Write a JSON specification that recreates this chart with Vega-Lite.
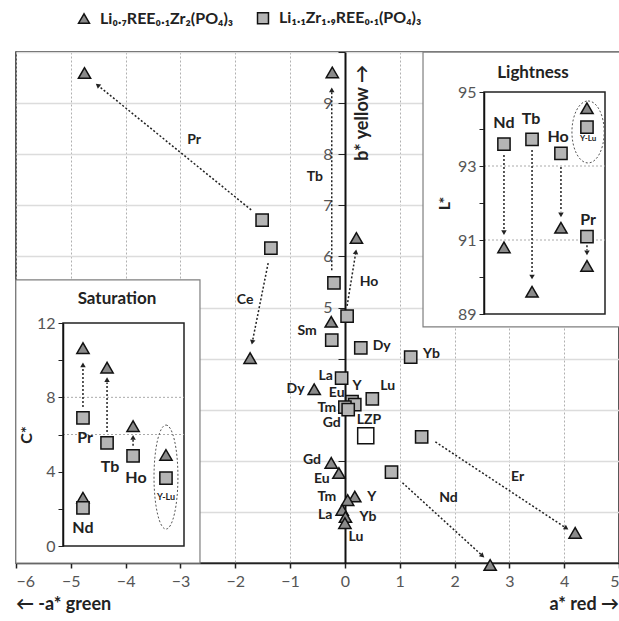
{
  "$schema": "https://vega.github.io/schema/vega-lite/v6.json",
  "width": 603,
  "height": 511,
  "autosize": {"type": "none"},
  "padding": {"left": 16, "top": 52, "right": 0, "bottom": 58},
  "background": "white",
  "config": {
    "view": {"stroke": "#222", "strokeWidth": 1.5},
    "font": "Lato",
    "text": {"font": "Lato"}
  },
  "resolve": {"scale": {"x": "independent", "y": "independent"}},
  "layer": [
    {
      "encoding": {
        "x": {"field": "x", "type": "quantitative", "scale": {"domain": [-6, 5], "nice": false, "zero": false},
          "axis": {"values": [-6,-5,-4,-3,-2,-1,0,1,2,3,4,5], "title": null, "grid": true, "gridColor": "#b0b0b0", "gridDash": [2,2], "gridWidth": 1, "domainColor": "#222", "domainWidth": 1.5, "tickColor": "#222", "tickSize": 5, "tickWidth": 1.5, "labelFontSize": 16, "labelColor": "#555", "labelPadding": 5, "labelFont": "Lato"}},
        "y": {"field": "y", "type": "quantitative", "scale": {"domain": [0, 10], "nice": false, "zero": false},
          "axis": {"orient": "left", "offset": -329, "values": [0,1,2,3,4,5,6,7,8,9,10], "labelExpr": "datum.value >= 5 && datum.value <= 9 ? datum.label : ''", "title": null, "grid": true, "gridColor": "#dcdcdc", "gridWidth": 1.5, "domainColor": "#111", "domainWidth": 2, "tickColor": "#222", "tickSize": 7, "labelPadding": 6, "labelFontSize": 16, "labelColor": "#555", "labelFont": "Lato"}}
      },
      "layer": [
        {
          "data": {"name": "arrowsMain", "values": [
            {"x": -1.71, "y": 6.91, "x2": -4.51, "y2": 9.35},
            {"x": -1.4, "y": 5.87, "x2": -1.69, "y2": 4.32},
            {"x": -0.24, "y": 5.73, "x2": -0.24, "y2": 9.26},
            {"x": 0.04, "y": 5.03, "x2": 0.2, "y2": 6.09},
            {"x": 1.65, "y": 2.37, "x2": 4.04, "y2": 0.68},
            {"x": 1.05, "y": 1.57, "x2": 2.51, "y2": 0.14}
          ]},
          "mark": {"type": "rule", "strokeDash": [2, 2], "strokeWidth": 1.5, "color": "#222"},
          "encoding": {"x2": {"field": "x2"}, "y2": {"field": "y2"}}
        },
        {
          "data": {"name": "arrowsMain"},
          "transform": [{"calculate": "atan2((datum.x2 - datum.x) * 54.82, (datum.y2 - datum.y) * 51.1) * 180 / PI", "as": "ang"}],
          "mark": {"type": "point", "shape": "triangle-up", "filled": true, "color": "#222", "size": 30, "opacity": 1},
          "encoding": {
            "x": {"field": "x2", "type": "quantitative", "scale": {"domain": [-6, 5], "nice": false, "zero": false},
              "axis": {"values": [-6,-5,-4,-3,-2,-1,0,1,2,3,4,5], "title": null, "grid": true, "gridColor": "#b0b0b0", "gridDash": [2,2], "gridWidth": 1, "domainColor": "#222", "domainWidth": 1.5, "tickColor": "#222", "tickSize": 5, "tickWidth": 1.5, "labelFontSize": 16, "labelColor": "#555", "labelPadding": 5, "labelFont": "Lato"}},
            "y": {"field": "y2", "type": "quantitative", "scale": {"domain": [0, 10], "nice": false, "zero": false},
              "axis": {"orient": "left", "offset": -329, "values": [0,1,2,3,4,5,6,7,8,9,10], "labelExpr": "datum.value >= 5 && datum.value <= 9 ? datum.label : ''", "title": null, "grid": true, "gridColor": "#dcdcdc", "gridWidth": 1.5, "domainColor": "#111", "domainWidth": 2, "tickColor": "#222", "tickSize": 7, "labelPadding": 6, "labelFontSize": 16, "labelColor": "#555", "labelFont": "Lato"}},
            "angle": {"field": "ang", "type": "quantitative", "scale": null}
          }
        },
        {
          "data": {"values": [
            {"ree": "Pr", "s": "tri", "x": -4.75, "y": 9.59},
            {"ree": "Tb", "s": "tri", "x": -0.23, "y": 9.6},
            {"ree": "Ho", "s": "tri", "x": 0.21, "y": 6.36},
            {"ree": "Ce", "s": "tri", "x": -1.73, "y": 4.01},
            {"ree": "Sm", "s": "tri", "x": -0.25, "y": 4.72},
            {"ree": "Dy", "s": "tri", "x": -0.56, "y": 3.4},
            {"ree": "Gd", "s": "tri", "x": -0.25, "y": 1.96},
            {"ree": "Eu", "s": "tri", "x": -0.11, "y": 1.76},
            {"ree": "Y", "s": "tri", "x": 0.18, "y": 1.3},
            {"ree": "Tm", "s": "tri", "x": 0.05, "y": 1.23},
            {"ree": "La", "s": "tri", "x": -0.05, "y": 1.04},
            {"ree": "Yb", "s": "tri", "x": 0.01, "y": 0.9},
            {"ree": "Lu", "s": "tri", "x": 0.0, "y": 0.78},
            {"ree": "Er", "s": "tri", "x": 4.2, "y": 0.59},
            {"ree": "Nd", "s": "tri", "x": 2.65, "y": -0.04},
            {"ree": "Pr", "s": "sq", "x": -1.51, "y": 6.71},
            {"ree": "Ce", "s": "sq", "x": -1.35, "y": 6.16},
            {"ree": "Tb", "s": "sq", "x": -0.2, "y": 5.48},
            {"ree": "Ho", "s": "sq", "x": 0.04, "y": 4.83},
            {"ree": "Sm", "s": "sq", "x": -0.24, "y": 4.36},
            {"ree": "Dy", "s": "sq", "x": 0.29, "y": 4.21},
            {"ree": "Yb", "s": "sq", "x": 1.2, "y": 4.03},
            {"ree": "La", "s": "sq", "x": -0.06, "y": 3.62},
            {"ree": "Eu", "s": "sq", "x": 0.13, "y": 3.16},
            {"ree": "Y", "s": "sq", "x": 0.18, "y": 3.1},
            {"ree": "Lu", "s": "sq", "x": 0.5, "y": 3.21},
            {"ree": "Tm", "s": "sq", "x": 0.0, "y": 3.05},
            {"ree": "Gd", "s": "sq", "x": 0.06, "y": 3.0},
            {"ree": "Er", "s": "sq", "x": 1.4, "y": 2.47},
            {"ree": "Nd", "s": "sq", "x": 0.85, "y": 1.78}
          ]},
          "mark": {"type": "point", "filled": true, "stroke": "#111", "strokeWidth": 1.5, "opacity": 1, "size": 150},
          "encoding": {
            "shape": {"field": "s", "type": "nominal", "scale": {"domain": ["tri", "sq"], "range": ["triangle-up", "square"]},
              "legend": {"orient": "none", "legendX": 60, "legendY": -42, "direction": "horizontal", "title": null, "labelExpr": "datum.value == 'tri' ? 'Li₀.₇REE₀.₁Zr₂(PO₄)₃' : 'Li₁.₁Zr₁.₉REE₀.₁(PO₄)₃'", "labelFontSize": 16, "labelFont": "Lato", "labelFontWeight": "bold", "labelColor": "#222", "symbolStrokeColor": "#111", "symbolStrokeWidth": 1.5, "symbolSize": 120, "columnPadding": 20, "labelOffset": 8, "labelLimit": 300}},
            "color": {"field": "s", "type": "nominal", "scale": {"domain": ["tri", "sq"], "range": ["#8a8a8a", "#b5b5b5"]},
              "legend": {"orient": "none", "legendX": 60, "legendY": -42, "direction": "horizontal", "title": null, "labelExpr": "datum.value == 'tri' ? 'Li₀.₇REE₀.₁Zr₂(PO₄)₃' : 'Li₁.₁Zr₁.₉REE₀.₁(PO₄)₃'", "labelFontSize": 16, "labelFont": "Lato", "labelFontWeight": "bold", "labelColor": "#222", "symbolStrokeColor": "#111", "symbolStrokeWidth": 1.5, "symbolSize": 120, "columnPadding": 20, "labelOffset": 8, "labelLimit": 300}}
          }
        },
        {
          "data": {"values": [{"ree": "LZP", "x": 0.38, "y": 2.49}]},
          "mark": {"type": "point", "shape": "square", "filled": true, "fill": "white", "stroke": "#111", "strokeWidth": 1.5, "size": 260, "opacity": 1}
        },
        {
          "data": {"values": [
            {"x": -2.75, "y": 8.28, "t": "Pr"},
            {"x": -1.82, "y": 5.15, "t": "Ce"},
            {"x": -0.55, "y": 7.55, "t": "Tb"},
            {"x": 0.44, "y": 5.5, "t": "Ho"},
            {"x": -0.69, "y": 4.54, "t": "Sm"},
            {"x": 0.67, "y": 4.25, "t": "Dy"},
            {"x": 1.58, "y": 4.09, "t": "Yb"},
            {"x": -0.35, "y": 3.66, "t": "La"},
            {"x": -0.9, "y": 3.4, "t": "Dy"},
            {"x": 0.22, "y": 3.46, "t": "Y"},
            {"x": 0.78, "y": 3.46, "t": "Lu"},
            {"x": -0.15, "y": 3.33, "t": "Eu"},
            {"x": -0.33, "y": 3.04, "t": "Tm"},
            {"x": -0.24, "y": 2.74, "t": "Gd"},
            {"x": 0.44, "y": 2.8, "t": "LZP"},
            {"x": -0.6, "y": 2.02, "t": "Gd"},
            {"x": -0.42, "y": 1.64, "t": "Eu"},
            {"x": -0.33, "y": 1.29, "t": "Tm"},
            {"x": 0.49, "y": 1.29, "t": "Y"},
            {"x": -0.36, "y": 0.94, "t": "La"},
            {"x": 0.42, "y": 0.9, "t": "Yb"},
            {"x": 0.2, "y": 0.51, "t": "Lu"},
            {"x": 3.15, "y": 1.68, "t": "Er"},
            {"x": 1.89, "y": 1.27, "t": "Nd"}
          ]},
          "mark": {"type": "text", "font": "Lato", "fontWeight": "bold", "fontSize": 14, "color": "#222", "align": "center", "baseline": "middle"},
          "encoding": {"text": {"field": "t"}}
        },
        {
          "data": {"values": [{"x": 0.33, "y": 8.81, "t": "b* yellow →"}]},
          "mark": {"type": "text", "font": "Lato", "fontWeight": "bold", "fontSize": 18, "color": "#222", "align": "center", "baseline": "middle", "angle": 270},
          "encoding": {"text": {"field": "t"}}
        },
        {
          "data": {"values": [{"x": -6, "y": -0.82, "t": "← -a* green"}]},
          "mark": {"type": "text", "font": "Lato", "fontWeight": "bold", "fontSize": 18, "color": "#222", "align": "left", "baseline": "middle"},
          "encoding": {"text": {"field": "t"}}
        },
        {
          "data": {"values": [{"x": 5, "y": -0.82, "t": "a* red →"}]},
          "mark": {"type": "text", "font": "Lato", "fontWeight": "bold", "fontSize": 18, "color": "#222", "align": "right", "baseline": "middle"},
          "encoding": {"text": {"field": "t"}}
        }
      ]
    },
    {
      "encoding": {
        "x": {"field": "x", "type": "quantitative", "scale": {"domain": [0, 10], "range": [47, 168], "nice": false, "zero": false}, "axis": null},
        "y": {"field": "y", "type": "quantitative", "scale": {"domain": [0, 12], "range": [494, 271], "nice": false, "zero": false},
          "axis": {"orient": "left", "offset": -47, "values": [0,2,4,6,8,10,12], "labelExpr": "datum.value % 4 == 0 ? datum.label : ''", "title": "C*", "titleFontSize": 16, "titleFont": "Lato", "titleFontWeight": "bold", "titleColor": "#222", "titlePadding": 2, "grid": false, "domainColor": "#111", "domainWidth": 1.5, "tickColor": "#222", "tickSize": 5, "labelFontSize": 16, "labelColor": "#555", "labelPadding": 3, "labelFont": "Lato", "zindex": 1}}
      },
      "layer": [
        {
          "data": {"values": [{"x": -3.9, "x2": 11.32, "y": -0.92, "y2": 14.32}]},
          "mark": {"type": "rect", "fill": "white", "stroke": "#7f7f7f", "strokeWidth": 1.2},
          "encoding": {"x2": {"field": "x2"}, "y2": {"field": "y2"}}
        },
        {
          "data": {"values": [{"x": 0, "x2": 10, "y": 0, "y2": 12}]},
          "mark": {"type": "rect", "fill": "white", "stroke": "#222", "strokeWidth": 1.5},
          "encoding": {"x2": {"field": "x2"}, "y2": {"field": "y2"}}
        },
        {
          "data": {"values": [{"x": 0, "x2": 10, "y": 6}, {"x": 0, "x2": 10, "y": 8}]},
          "mark": {"type": "rule", "strokeDash": [2, 2], "color": "#aaa", "strokeWidth": 1},
          "encoding": {"x2": {"field": "x2"}}
        },
        {
          "data": {"values": [
            {"x": 1.65, "y": 7.48, "y2": 9.6},
            {"x": 3.64, "y": 6.14, "y2": 8.8},
            {"x": 5.79, "y": 5.4, "y2": 5.75}
          ]},
          "mark": {"type": "rule", "strokeDash": [2, 2], "strokeWidth": 1.5, "color": "#222"},
          "encoding": {"y2": {"field": "y2"}}
        },
        {
          "data": {"values": [
            {"x": 1.65, "y": 9.75},
            {"x": 3.64, "y": 8.95},
            {"x": 5.79, "y": 5.85}
          ]},
          "mark": {"type": "point", "shape": "triangle-up", "filled": true, "color": "#222", "size": 30, "opacity": 1}
        },
        {
          "data": {"values": [
            {"ree": "Pr", "s": "tri", "x": 1.65, "y": 10.65},
            {"ree": "Tb", "s": "tri", "x": 3.64, "y": 9.6},
            {"ree": "Ho", "s": "tri", "x": 5.79, "y": 6.45},
            {"ree": "Y-Lu", "s": "tri", "x": 8.51, "y": 4.9},
            {"ree": "Nd", "s": "tri", "x": 1.65, "y": 2.6},
            {"ree": "Pr", "s": "sq", "x": 1.65, "y": 6.9},
            {"ree": "Tb", "s": "sq", "x": 3.64, "y": 5.55},
            {"ree": "Ho", "s": "sq", "x": 5.79, "y": 4.85},
            {"ree": "Y-Lu", "s": "sq", "x": 8.51, "y": 3.65},
            {"ree": "Nd", "s": "sq", "x": 1.65, "y": 2.05}
          ]},
          "mark": {"type": "point", "filled": true, "stroke": "#111", "strokeWidth": 1.5, "opacity": 1, "size": 150},
          "encoding": {
            "shape": {"field": "s", "type": "nominal"},
            "color": {"field": "s", "type": "nominal"}
          }
        },
        {
          "data": {"values": [
            {"x": 1.82, "y": 5.81, "t": "Pr"},
            {"x": 3.88, "y": 4.25, "t": "Tb"},
            {"x": 6.03, "y": 3.66, "t": "Ho"},
            {"x": 1.65, "y": 0.97, "t": "Nd"}
          ]},
          "mark": {"type": "text", "font": "Lato", "fontWeight": "bold", "fontSize": 16, "color": "#222", "align": "center", "baseline": "middle"},
          "encoding": {"text": {"field": "t"}}
        },
        {
          "data": {"values": [{"x": 8.51, "y": 2.64, "t": "Y-Lu"}]},
          "mark": {"type": "text", "font": "Lato", "fontWeight": "bold", "fontSize": 9, "color": "#222", "align": "center", "baseline": "middle"},
          "encoding": {"text": {"field": "t"}}
        },
        {
          "data": {"values": [{"x": 8.51, "y": 3.71}]},
          "mark": {"type": "point", "shape": "M0,-1C0.127,-1,0.23,-0.552,0.23,0C0.23,0.552,0.127,1,0,1C-0.127,1,-0.23,0.552,-0.23,0C-0.23,-0.552,-0.127,-1,0,-1Z", "filled": false, "stroke": "#555", "strokeWidth": 1, "strokeDash": [2, 2], "size": 10816, "opacity": 1}
        },
        {
          "data": {"values": [{"x": 4.46, "y": 13.29, "t": "Saturation"}]},
          "mark": {"type": "text", "font": "Lato", "fontWeight": "bold", "fontSize": 17, "color": "#222", "align": "center", "baseline": "middle"},
          "encoding": {"text": {"field": "t"}}
        }
      ]
    },
    {
      "encoding": {
        "x": {"field": "x", "type": "quantitative", "scale": {"domain": [0, 10], "range": [468, 589], "nice": false, "zero": false}, "axis": null},
        "y": {"field": "y", "type": "quantitative", "scale": {"domain": [89, 95], "range": [262, 40], "nice": false, "zero": false},
          "axis": {"orient": "left", "offset": -468, "values": [89,90,91,92,93,94,95], "labelExpr": "datum.value % 2 == 1 ? datum.label : ''", "title": "L*", "titleFontSize": 16, "titleFont": "Lato", "titleFontWeight": "bold", "titleColor": "#222", "titlePadding": 5, "grid": false, "domainColor": "#111", "domainWidth": 1.5, "tickColor": "#222", "tickSize": 5, "labelFontSize": 16, "labelColor": "#555", "labelPadding": 3, "labelFont": "Lato", "zindex": 1}}
      },
      "layer": [
        {
          "data": {"values": [{"x": -5.04, "x2": 12.5, "y": 88.65, "y2": 96.08}]},
          "mark": {"type": "rect", "fill": "white", "stroke": "#7f7f7f", "strokeWidth": 1.2},
          "encoding": {"x2": {"field": "x2"}, "y2": {"field": "y2"}}
        },
        {
          "data": {"values": [{"x": 0, "x2": 10, "y": 89, "y2": 95}]},
          "mark": {"type": "rect", "fill": "white", "stroke": "#222", "strokeWidth": 1.5},
          "encoding": {"x2": {"field": "x2"}, "y2": {"field": "y2"}}
        },
        {
          "data": {"values": [{"x": 0, "x2": 10, "y": 91}, {"x": 0, "x2": 10, "y": 93}]},
          "mark": {"type": "rule", "strokeDash": [2, 2], "color": "#aaa", "strokeWidth": 1},
          "encoding": {"x2": {"field": "x2"}}
        },
        {
          "data": {"values": [
            {"x": 1.65, "y": 93.3, "y2": 91.3},
            {"x": 3.97, "y": 93.43, "y2": 90.1},
            {"x": 6.36, "y": 92.97, "y2": 91.78},
            {"x": 8.51, "y": 90.86, "y2": 90.72}
          ]},
          "mark": {"type": "rule", "strokeDash": [2, 2], "strokeWidth": 1.5, "color": "#222"},
          "encoding": {"y2": {"field": "y2"}}
        },
        {
          "data": {"values": [
            {"x": 1.65, "y": 91.2},
            {"x": 3.97, "y": 90.0},
            {"x": 6.36, "y": 91.68},
            {"x": 8.51, "y": 90.65}
          ]},
          "mark": {"type": "point", "shape": "triangle-down", "filled": true, "color": "#222", "size": 30, "opacity": 1}
        },
        {
          "data": {"values": [
            {"ree": "Nd", "s": "tri", "x": 1.65, "y": 90.8},
            {"ree": "Tb", "s": "tri", "x": 3.97, "y": 89.6},
            {"ree": "Ho", "s": "tri", "x": 6.36, "y": 91.33},
            {"ree": "Y-Lu", "s": "tri", "x": 8.51, "y": 94.56},
            {"ree": "Pr", "s": "tri", "x": 8.51, "y": 90.3},
            {"ree": "Nd", "s": "sq", "x": 1.65, "y": 93.59},
            {"ree": "Tb", "s": "sq", "x": 3.97, "y": 93.72},
            {"ree": "Ho", "s": "sq", "x": 6.36, "y": 93.34},
            {"ree": "Y-Lu", "s": "sq", "x": 8.51, "y": 94.05},
            {"ree": "Pr", "s": "sq", "x": 8.51, "y": 91.09}
          ]},
          "mark": {"type": "point", "filled": true, "stroke": "#111", "strokeWidth": 1.5, "opacity": 1, "size": 150},
          "encoding": {
            "shape": {"field": "s", "type": "nominal"},
            "color": {"field": "s", "type": "nominal"}
          }
        },
        {
          "data": {"values": [
            {"x": 1.65, "y": 94.16, "t": "Nd"},
            {"x": 3.88, "y": 94.27, "t": "Tb"},
            {"x": 6.12, "y": 93.78, "t": "Ho"},
            {"x": 8.6, "y": 91.54, "t": "Pr"}
          ]},
          "mark": {"type": "text", "font": "Lato", "fontWeight": "bold", "fontSize": 16, "color": "#222", "align": "center", "baseline": "middle"},
          "encoding": {"text": {"field": "t"}}
        },
        {
          "data": {"values": [{"x": 8.6, "y": 93.73, "t": "Y-Lu"}]},
          "mark": {"type": "text", "font": "Lato", "fontWeight": "bold", "fontSize": 8, "color": "#222", "align": "center", "baseline": "middle"},
          "encoding": {"text": {"field": "t"}}
        },
        {
          "data": {"values": [{"x": 8.6, "y": 93.92}]},
          "mark": {"type": "point", "shape": "M0,-1C0.287,-1,0.52,-0.552,0.52,0C0.52,0.552,0.287,1,0,1C-0.287,1,-0.52,0.552,-0.52,0C-0.52,-0.552,-0.287,-1,0,-1Z", "filled": false, "stroke": "#555", "strokeWidth": 1, "strokeDash": [2, 2], "size": 3844, "opacity": 1}
        },
        {
          "data": {"values": [{"x": 4.05, "y": 95.51, "t": "Lightness"}]},
          "mark": {"type": "text", "font": "Lato", "fontWeight": "bold", "fontSize": 17, "color": "#222", "align": "center", "baseline": "middle"},
          "encoding": {"text": {"field": "t"}}
        }
      ]
    }
  ]
}
